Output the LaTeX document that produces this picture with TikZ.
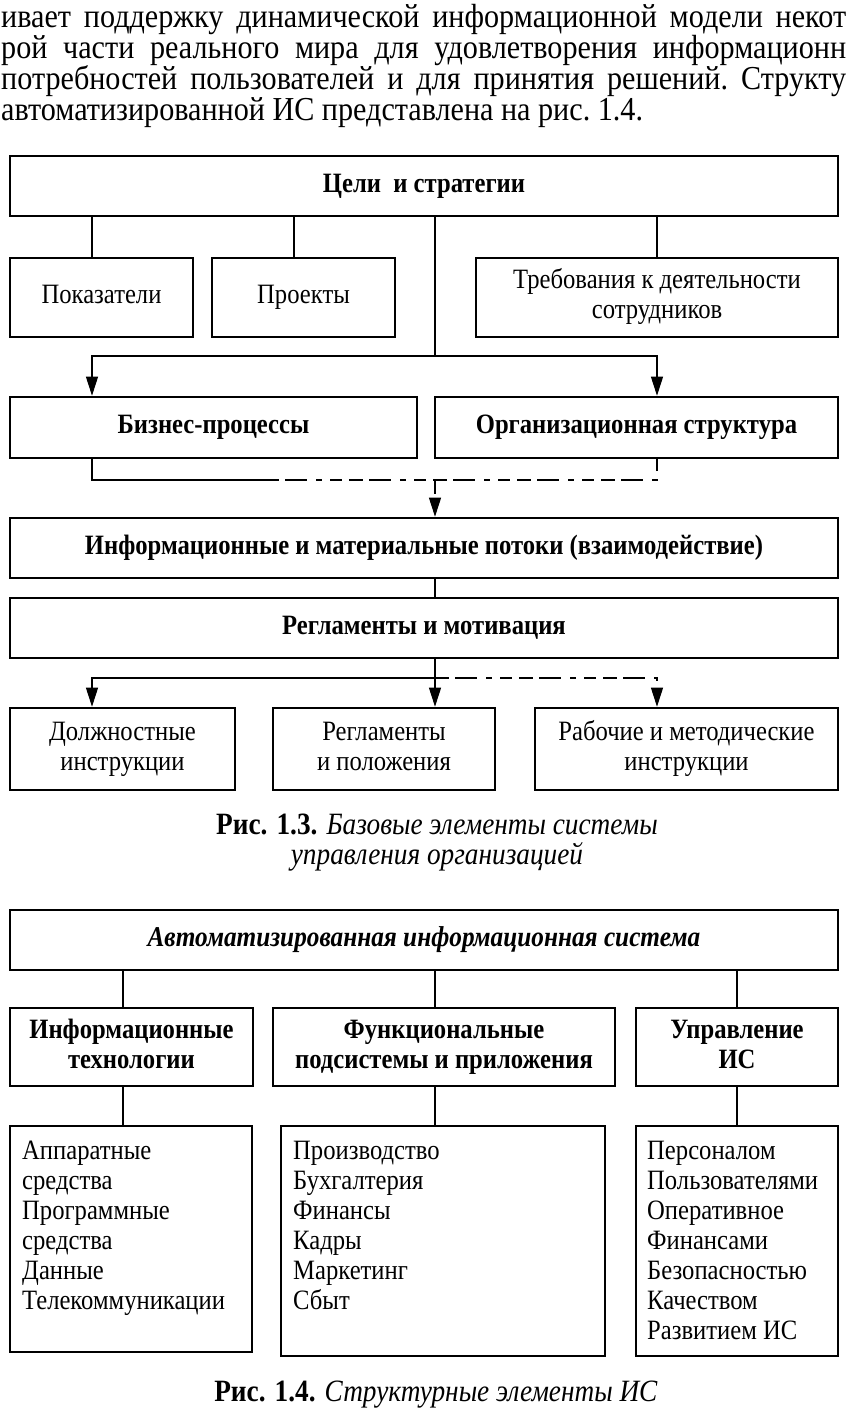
\documentclass[tikz,border=0pt]{standalone}
\usepackage{fontspec}
\setmainfont[FakeStretch=0.88]{Liberation Serif}
\newfontfamily\parafont[FakeStretch=0.9]{Liberation Serif}
\usetikzlibrary{arrows.meta,calc}
\newcommand\dfont{\fontsize{28}{30}\selectfont}
\newcommand\cfont{\fontsize{31}{30}\selectfont}
\newcommand\pfont{\parafont\fontsize{33.5}{31}\selectfont\frenchspacing}
\tikzset{
  box/.style={draw, line width=2.6pt, inner sep=2pt, align=center, font=\dfont},
  bbox/.style={box, font=\dfont\bfseries},
  conn/.style={line width=1.1pt},
  arr/.style={conn, -{Triangle[length=19pt,width=12pt]}},
  faded/.style={conn, dash pattern=on 14pt off 6pt on 22pt off 9pt on 6pt off 8pt on 12pt off 7pt},
  fadedarr/.style={faded, -{Triangle[length=19pt,width=12pt]}},
  para/.style={anchor=base west, inner sep=0pt, font=\pfont},
  listtext/.style={anchor=north west, inner sep=0pt, align=left, font=\dfont}
}
\begin{document}
\begin{tikzpicture}[x=1pt,y=-1pt]
\useasboundingbox (0,0) rectangle (847,1425);
\fill[white] (0,0) rectangle (847,1425);

% paragraph
\node[para] (p1) at (1,27) {\makebox[845pt][s]{ивает поддержку динамической информационной модели некот}};
\node[para] (p2) at (1,58) {\makebox[845pt][s]{рой части реального мира для удовлетворения информационн}};
\node[para] (p3) at (1,89) {\makebox[845pt][s]{потребностей пользователей и для принятия решений. Структу}};
\node[para] (p4) at (1,120) {автоматизированной ИС представлена на рис. 1.4.};

% ---------- Fig 1.3 ----------
\node[bbox, minimum width=828pt, minimum height=60pt] (goals) at (424,186) {\strut Цели\ \ и стратегии};
\node[box, minimum width=183pt, minimum height=79pt] (pok) at (101.5,297.5) {\strut Показатели};
\node[box, minimum width=183pt, minimum height=79pt] (proj) at (303.5,297.5) {\strut Проекты};
\node[box, minimum width=362pt, minimum height=79pt] (treb) at (657,297.5) {\strut Требования к деятельности\\\strut сотрудников};
\node[bbox, minimum width=407pt, minimum height=61pt] (biz) at (213.5,427.5) {\strut Бизнес-процессы};
\node[bbox, minimum width=403pt, minimum height=61pt] (org) at (636.5,427.5) {\strut Организационная структура};
\node[bbox, minimum width=828pt, minimum height=60pt] (flows) at (424,548) {\strut Информационные и материальные потоки (взаимодействие)};
\node[bbox, minimum width=828pt, minimum height=60pt] (regl) at (424,628) {\strut Регламенты и мотивация};
\node[box, minimum width=225pt, minimum height=82pt] (dolzh) at (122.5,749) {\strut Должностные\\\strut инструкции};
\node[box, minimum width=222pt, minimum height=82pt] (polozh) at (384,749) {\strut Регламенты\\\strut и положения};
\node[box, minimum width=303pt, minimum height=82pt] (rab) at (686.5,749) {\strut Рабочие и методические\\\strut инструкции};

\coordinate (xL) at (92,0);
\coordinate (xP) at (294,0);
\coordinate (xM) at (435,0);
\coordinate (xR) at (657,0);
\coordinate (b1) at (435,356);
\coordinate (b2) at (435,480);
\coordinate (d2) at (265,480);
\coordinate (b3) at (435,678);
\coordinate (d3) at (275,678);

\draw[conn] (goals.south -| xL) -- (pok.north -| xL);
\draw[conn] (goals.south -| xP) -- (proj.north -| xP);
\draw[conn] (goals.south -| xR) -- (treb.north -| xR);
\draw[conn] (goals.south -| b1) -- (b1);
\draw[arr] (b1) -| (biz.north -| xL);
\draw[arr] (b1) -| (org.north -| xR);

\draw[conn] (biz.south -| xL) |- (d2);
\draw[faded] (d2) -| (org.south -| xR);
\draw[fadedarr] (b2) -- (flows.north -| b2);
\draw[conn] (flows.south -| xM) -- (regl.north -| xM);

\draw[conn] (regl.south -| b3) -- (b3);
\draw[arr] (d3) -| (dolzh.north -| xL);
\draw[conn] (d3) -- (b3);
\draw[fadedarr] (b3) -| (rab.north -| xR);
\draw[arr] (b3) -- (polozh.north -| b3);

\node[font=\cfont, align=center, inner sep=0pt] (cap3) at (437,843) {\textbf{Рис. 1.3.} \textit{Базовые элементы системы}\\\textit{управления организацией}};

% ---------- Fig 1.4 ----------
\node[box, minimum width=828pt, minimum height=60pt, font=\fontsize{28.7}{30}\selectfont\bfseries\itshape] (ais) at (424,940) {\strut Автоматизированная информационная система};
\node[bbox, minimum width=243pt, minimum height=78pt] (it) at (131.5,1047) {\strut Информационные\\\strut технологии};
\node[bbox, minimum width=342pt, minimum height=78pt] (func) at (444,1047) {\strut Функциональные\\\strut подсистемы и приложения};
\node[bbox, minimum width=202pt, minimum height=78pt] (upr) at (737,1047) {\strut Управление\\\strut ИС};
\node[box, minimum width=242pt, minimum height=226pt] (l1) at (131,1239) {};
\node[box, minimum width=324pt, minimum height=230pt] (l2) at (443,1241) {};
\node[box, minimum width=202pt, minimum height=230pt] (l3) at (737,1241) {};

\coordinate (y1) at (123,0);
\coordinate (y2) at (435,0);
\coordinate (y3) at (737,0);
\draw[conn] (ais.south -| y1) -- (it.north -| y1);
\draw[conn] (ais.south -| y2) -- (func.north -| y2);
\draw[conn] (ais.south -| y3) -- (upr.north -| y3);
\draw[conn] (it.south -| y1) -- (l1.north -| y1);
\draw[conn] (func.south -| y2) -- (l2.north -| y2);
\draw[conn] (upr.south -| y3) -- (l3.north -| y3);

\node[listtext] (t1) at (22,1141) {Аппаратные\\средства\\Программные\\средства\\Данные\\Телекоммуникации};
\node[listtext] (t2) at (293,1141) {Производство\\Бухгалтерия\\Финансы\\Кадры\\Маркетинг\\Сбыт};
\node[listtext] (t3) at (647,1141) {Персоналом\\Пользователями\\Оперативное\\Финансами\\Безопасностью\\Качеством\\Развитием ИС};

\node[font=\cfont, inner sep=0pt] (cap4) at (436,1395) {\textbf{Рис. 1.4.} \textit{Структурные элементы ИС}};
\end{tikzpicture}
\end{document}
